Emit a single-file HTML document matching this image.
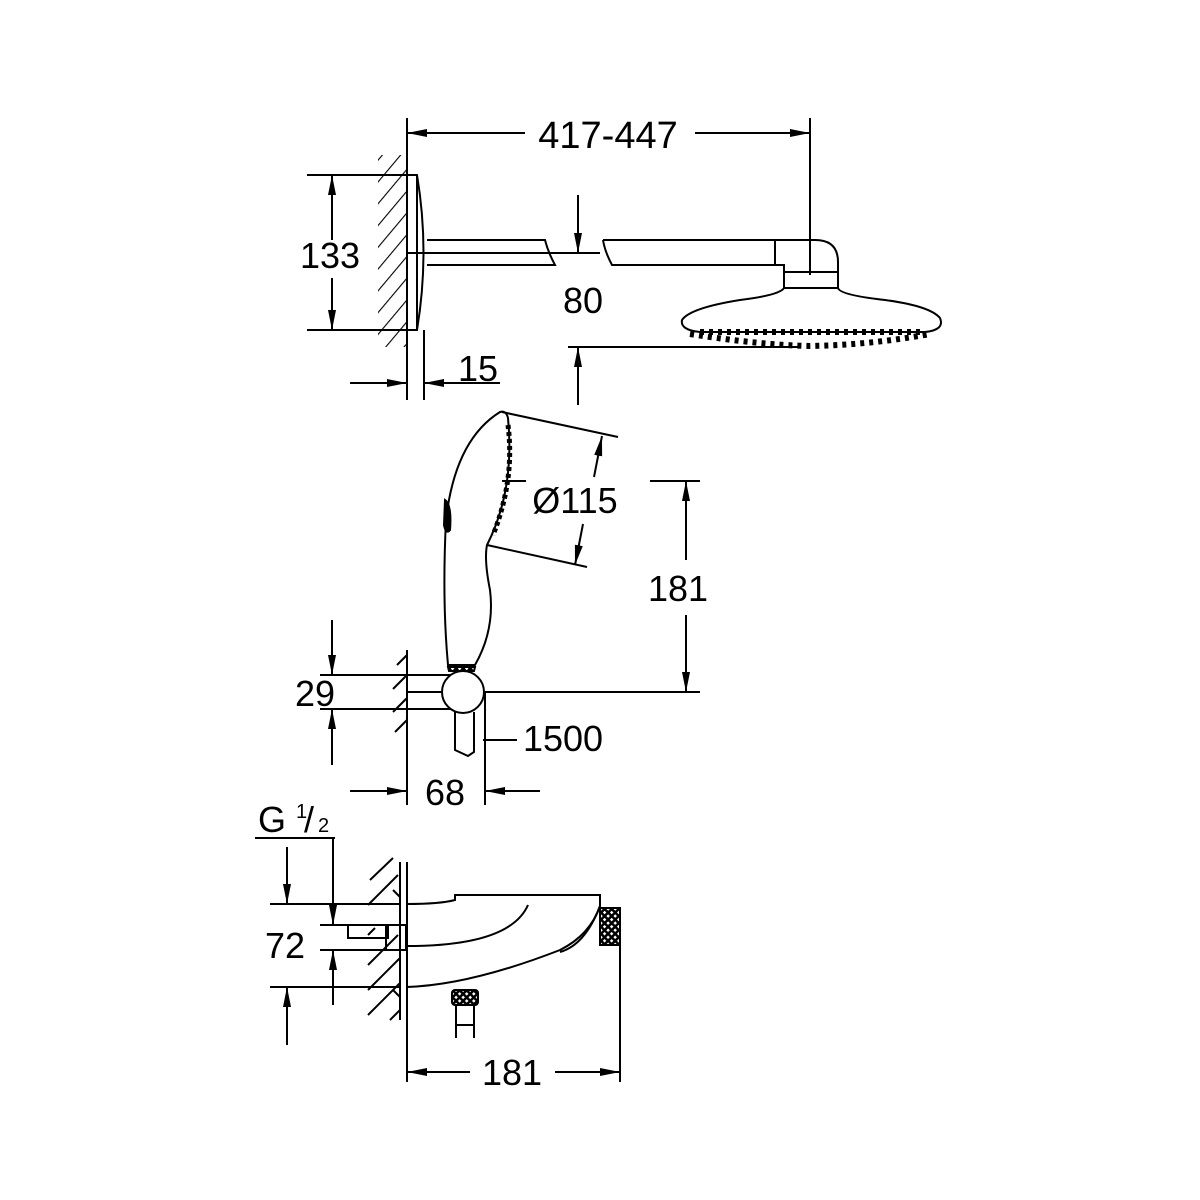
<!DOCTYPE html>
<html><head><meta charset="utf-8"><style>html,body{margin:0;padding:0;background:#fff}svg{display:block}text{font-family:"Liberation Sans",sans-serif;fill:#000}</style></head>
<body>
<svg width="1200" height="1200" viewBox="0 0 1200 1200" xmlns="http://www.w3.org/2000/svg">
<defs>
<marker id="a" markerWidth="20" markerHeight="10" refX="20" refY="5" orient="auto" markerUnits="userSpaceOnUse"><path d="M0,1 L20,5 L0,9 Z" fill="#000"/></marker>
<pattern id="h" width="14" height="14" patternUnits="userSpaceOnUse" patternTransform="rotate(40)"><line x1="0" y1="0" x2="0" y2="14" stroke="#000" stroke-width="2.2"/></pattern>
<pattern id="k" width="5" height="5" patternUnits="userSpaceOnUse" patternTransform="rotate(45)"><rect width="5" height="5" fill="#000"/><rect x="1.5" y="1.5" width="2.5" height="2.5" fill="#fff"/></pattern>
</defs>
<g fill="none" stroke="#000" stroke-width="2">
<!-- TOP -->
<rect x="378" y="155" width="29" height="192" fill="url(#h)" stroke="none"/>
<line x1="407" y1="118" x2="407" y2="400"/>
<line x1="810" y1="118" x2="810" y2="275"/>
<line x1="525" y1="133" x2="407" y2="133" marker-end="url(#a)"/>
<line x1="695" y1="133" x2="810" y2="133" marker-end="url(#a)"/>
<path d="M407,175 L417,175 Q430,252 417,330 L407,330"/>
<line x1="417" y1="175" x2="417" y2="330"/>
<line x1="307" y1="175" x2="417" y2="175"/>
<line x1="307" y1="330" x2="417" y2="330"/>
<line x1="332" y1="240" x2="332" y2="175" marker-end="url(#a)"/>
<line x1="332" y1="278" x2="332" y2="330" marker-end="url(#a)"/>
<path d="M427,240 L545,240 Q548,252 555,265 L427,265"/>
<line x1="407" y1="253" x2="600" y2="253"/>
<path d="M603,240 L775,240 L775,265 L612,265 Q605,252 603,240"/>
<path d="M775,240 L815,240 Q838,240 838,262 L838,288 M775,265 L784,265 L784,288 M784,272 L838,272"/>
<path d="M784,288 Q780,295 740,300 Q690,308 682,320 Q680,330 700,332 L925,332 Q945,330 940,318 Q930,306 885,300 Q840,295 838,288 Z"/>
<path d="M700,332 L925,332 M690,334 Q760,345 810,346 Q870,345 930,334" stroke-width="6" stroke-dasharray="4 5"/>
<line x1="578" y1="195" x2="578" y2="253" marker-end="url(#a)"/>
<line x1="568" y1="347" x2="800" y2="347"/>
<line x1="578" y1="405" x2="578" y2="347" marker-end="url(#a)"/>
<line x1="424" y1="330" x2="424" y2="400"/>
<line x1="350" y1="383" x2="407" y2="383" marker-end="url(#a)"/>
<line x1="500" y1="383" x2="424" y2="383" marker-end="url(#a)"/>
<!-- MIDDLE -->
<line x1="407" y1="650" x2="407" y2="735"/>
<path d="M407,655 L397,665 M407,675 L393,689 M407,698 L393,712 M407,720 L395,732"/>
<line x1="320" y1="675" x2="460" y2="675"/>
<line x1="320" y1="709" x2="460" y2="709"/>
<line x1="407" y1="692" x2="700" y2="692"/>
<circle cx="463" cy="692" r="21" fill="#fff"/>
<line x1="332" y1="620" x2="332" y2="675" marker-end="url(#a)"/>
<line x1="332" y1="765" x2="332" y2="709" marker-end="url(#a)"/>
<path d="M455,712 L455,750 L468,756 L474,752 L474,712"/>
<line x1="483" y1="740" x2="517" y2="740"/>
<line x1="485" y1="692" x2="485" y2="805"/>
<line x1="407" y1="735" x2="407" y2="805"/>
<line x1="350" y1="791" x2="407" y2="791" marker-end="url(#a)"/>
<line x1="540" y1="791" x2="485" y2="791" marker-end="url(#a)"/>
<path d="M448,665 Q442,600 446,520 Q455,440 500,412 Q506,410 508,418 Q515,490 487,545 Q484,560 490,590 Q495,630 475,665 Z" fill="#fff"/>
<path d="M448,667 L475,667 L474,671 L449,671 Z" fill="url(#k)"/>
<path d="M445,500 Q452,505 450,530 Q446,535 444,525 Z" fill="#000"/>
<path d="M508,425 Q515,480 493,535" stroke-width="5" stroke-dasharray="4 3"/>
<line x1="502" y1="412" x2="618" y2="437"/>
<line x1="487" y1="545" x2="587" y2="567"/>
<line x1="502" y1="481" x2="526" y2="481"/>
<line x1="594" y1="477" x2="602" y2="436" marker-end="url(#a)"/>
<line x1="583" y1="524" x2="575" y2="565" marker-end="url(#a)"/>
<line x1="650" y1="481" x2="700" y2="481"/>
<line x1="686" y1="560" x2="686" y2="481" marker-end="url(#a)"/>
<line x1="686" y1="615" x2="686" y2="692" marker-end="url(#a)"/>
<!-- BOTTOM -->
<line x1="255" y1="838" x2="335" y2="838"/>
<line x1="333" y1="838" x2="333" y2="925" marker-end="url(#a)"/>
<line x1="333" y1="1005" x2="333" y2="950" marker-end="url(#a)"/>
<line x1="270" y1="904" x2="400" y2="904"/>
<line x1="270" y1="987" x2="400" y2="987"/>
<line x1="320" y1="925" x2="405" y2="925"/>
<line x1="320" y1="950" x2="405" y2="950"/>
<line x1="287" y1="847" x2="287" y2="904" marker-end="url(#a)"/>
<line x1="287" y1="1045" x2="287" y2="987" marker-end="url(#a)"/>
<path d="M370,880 L393,858 M368,905 L398,875 M368,935 L375,928 M368,965 L398,935 M368,990 L400,958 M368,1015 L400,983 M390,1020 L400,1010 M393,890 L400,897 M393,990 L400,997"/>
<line x1="400" y1="862" x2="400" y2="1020"/>
<line x1="407" y1="862" x2="407" y2="1082"/>
<rect x="348" y="925" width="40" height="13"/>
<rect x="386" y="925" width="20" height="25"/>
<path d="M407,904 Q440,904 455,900 L455,895 L600,895 L600,906 Q590,935 560,950 Q470,985 407,987"/>
<path d="M407,946 Q510,946 528,905"/>
<path d="M600,906 Q585,945 560,952"/>
<rect x="600" y="908" width="20" height="37" fill="url(#k)"/>
<rect x="452" y="990" width="26" height="15" rx="3" fill="url(#k)"/>
<path d="M456,1005 L456,1038 M474,1005 L474,1038 M456,1025 L474,1025"/>
<line x1="620" y1="945" x2="620" y2="1082"/>
<line x1="470" y1="1072" x2="407" y2="1072" marker-end="url(#a)"/>
<line x1="555" y1="1072" x2="620" y2="1072" marker-end="url(#a)"/>
</g>
<g font-size="36">
<text x="608" y="148" text-anchor="middle" font-size="38">417-447</text>
<text x="330" y="268" text-anchor="middle">133</text>
<text x="583" y="313" text-anchor="middle">80</text>
<text x="478" y="381" text-anchor="middle">15</text>
<text x="575" y="513" text-anchor="middle">Ø115</text>
<text x="678" y="601" text-anchor="middle">181</text>
<text x="315" y="706" text-anchor="middle">29</text>
<text x="563" y="751" text-anchor="middle">1500</text>
<text x="445" y="805" text-anchor="middle">68</text>
<text x="258" y="832">G</text>
<text x="296" y="818" font-size="20">1</text>
<text x="304" y="832">/</text>
<text x="318" y="832" font-size="20">2</text>
<text x="285" y="958" text-anchor="middle">72</text>
<text x="512" y="1085" text-anchor="middle">181</text>
</g>
</svg>
</body></html>
